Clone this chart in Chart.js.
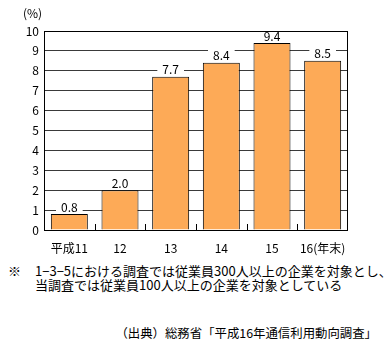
<!DOCTYPE html>
<html>
<head>
<meta charset="utf-8">
<script src="https://cdn.jsdelivr.net/npm/chart.js@4"></script>
<style>
  body { margin: 0; background: #fff; font-family: "Noto Sans CJK JP", sans-serif; }
  #wrap { position: relative; width: 385px; height: 256px; }
  .note { position: absolute; font-size: 13px; color: #000; line-height: 14px; white-space: nowrap; }
</style>
</head>
<body>
<div id="wrap"><canvas id="c"></canvas></div>
<div class="note" style="left:8px; top:264px;">※</div>
<div class="note" style="left:35px; top:264px;">1−3−5における調査では従業員300人以上の企業を対象とし、<br>当調査では従業員100人以上の企業を対象としている</div>
<div class="note" style="right:8px; top:326px; font-size:12.4px;">（出典）総務省「平成16年通信利用動向調査」</div>
<script>
const YEARS = ["平成11", "12", "13", "14", "15", "16(年末)"];
const RATES = [0.8, 2.0, 7.7, 8.4, 9.4, 8.5];
const Y_TICKS = [0, 1, 2, 3, 4, 5, 6, 7, 8, 9, 10];

const FONT = { family: "'Noto Sans CJK JP', sans-serif", size: 12 };

// value labels on a white box so the gridline breaks around them
const valueLabels = {
  id: "valueLabels",
  afterDatasetsDraw(chart) {
    const { ctx } = chart;
    const meta = chart.getDatasetMeta(0);
    ctx.save();
    ctx.font = `${FONT.size}px ${FONT.family}`;
    ctx.textAlign = "center";
    ctx.textBaseline = "bottom";
    meta.data.forEach((bar, i) => {
      const txt = RATES[i].toFixed(1);
      const w = ctx.measureText(txt).width;
      ctx.fillStyle = "#fff";
      ctx.fillRect(bar.x - w / 2 - 5, bar.y - 16, w + 10, 13);
      ctx.fillStyle = "#000";
      ctx.fillText(txt, bar.x, bar.y - 1);
    });
    ctx.restore();
  },
};

// frame, short ticks between categories, and the (%) unit
const frame = {
  id: "frame",
  afterDraw(chart) {
    const { ctx, chartArea: a, scales } = chart;
    ctx.save();
    ctx.strokeStyle = "#000";
    ctx.lineWidth = 1;
    ctx.strokeRect(a.left + 0.5, a.top + 0.5, a.right - a.left - 1, a.bottom - a.top);
    ctx.beginPath();
    for (let i = 1; i < YEARS.length; i++) {
      const x = Math.round((scales.x.getPixelForValue(i - 1) + scales.x.getPixelForValue(i)) / 2) + 0.5;
      ctx.moveTo(x, a.bottom);
      ctx.lineTo(x, a.bottom - 6);
    }
    ctx.stroke();
    ctx.fillStyle = "#000";
    ctx.font = `${FONT.size}px ${FONT.family}`;
    ctx.textAlign = "left";
    ctx.textBaseline = "bottom";
    ctx.fillText("(%)", 23, a.top - 12);
    ctx.restore();
  },
};

new Chart(document.getElementById("c"), {
  type: "bar",
  data: {
    labels: YEARS,
    datasets: [{
      data: RATES,
      backgroundColor: "#fdaa57",
      borderColor: "#000",
      borderWidth: 1,
      borderSkipped: "bottom",
      barPercentage: 0.73,
      categoryPercentage: 1,
    }],
  },
  options: {
    responsive: true,
    maintainAspectRatio: false,
    animation: false,
    layout: { padding: { top: 31, right: 37, left: 0, bottom: 0 } },
    plugins: { legend: { display: false }, tooltip: { enabled: false } },
    scales: {
      x: {
        grid: { display: false },
        border: { display: false },
        ticks: { color: "#000", font: FONT, padding: 3, maxRotation: 0 },
        afterFit: (s) => { s.height = 26; },
      },
      y: {
        min: 0,
        max: 10,
        afterBuildTicks: (s) => { s.ticks = Y_TICKS.map((v) => ({ value: v })); },
        grid: { color: "#3a3a3a", drawTicks: false },
        border: { display: false },
        ticks: { color: "#000", font: FONT, padding: 5 },
        afterFit: (s) => { s.width = 44; },
      },
    },
  },
  plugins: [valueLabels, frame],
});
</script>
</body>
</html>
